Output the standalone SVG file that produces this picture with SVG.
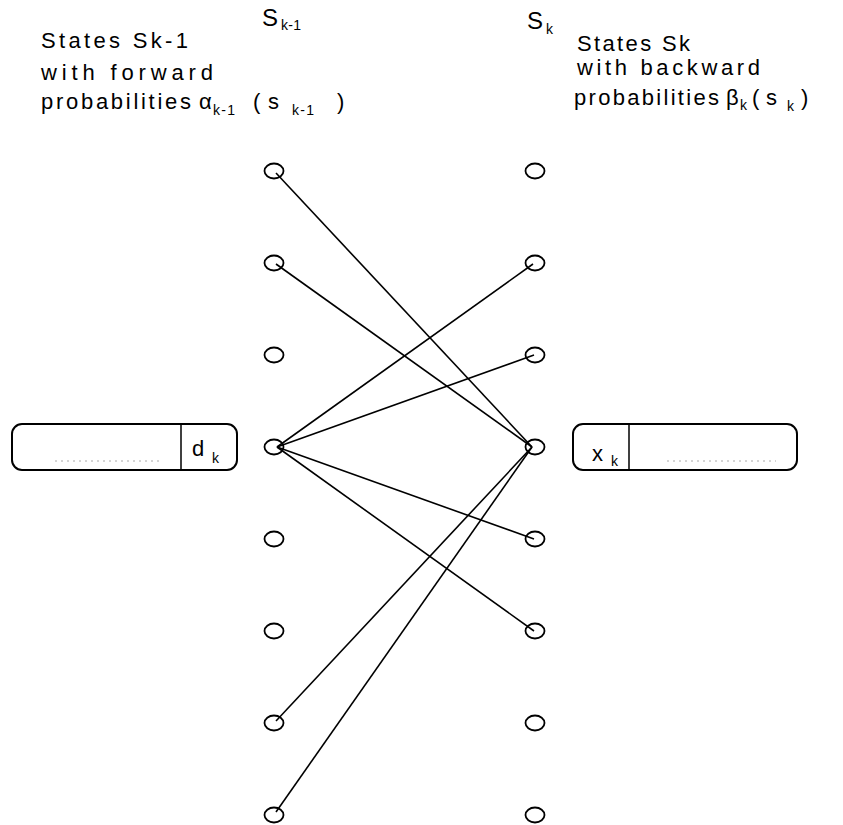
<svg xmlns="http://www.w3.org/2000/svg" width="843" height="825" viewBox="0 0 843 825">
<style>
text{font-family:"Liberation Sans",Arial,sans-serif;fill:#000}
.t{font-size:22px}
.h{font-size:24px}
.s{font-size:14px}
.st{fill:none;stroke:#000;stroke-width:1.8}
.box{fill:#fff;stroke:#000;stroke-width:2}
.div{stroke:#000;stroke-width:1.5}
.dots{stroke:#aaa;stroke-width:1;stroke-dasharray:2 4}
.e{stroke:#000;stroke-width:1.6;fill:none}
</style>
<rect width="843" height="825" fill="#fff"/>
<g id="labels">
<text class="t" x="41" y="48" textLength="147" lengthAdjust="spacing">States Sk-1</text>
<text class="t" x="41" y="80" textLength="172" lengthAdjust="spacing">with forward</text>
<text class="t" x="41" y="109" textLength="150" lengthAdjust="spacing">probabilities</text>
<text class="t" x="199" y="109">α</text>
<text class="s" x="213" y="115" textLength="22" lengthAdjust="spacing">k-1</text>
<text class="t" x="253" y="109">(</text>
<text class="t" x="268" y="109">s</text>
<text class="s" x="292" y="115" textLength="22" lengthAdjust="spacing">k-1</text>
<text class="t" x="337" y="109">)</text>
<text class="h" x="262" y="26">S</text>
<text class="s" x="281" y="30" textLength="20" lengthAdjust="spacing">k-1</text>
<text class="h" x="527" y="29">S</text>
<text class="s" x="546" y="34">k</text>
<text class="t" x="577" y="51" textLength="113" lengthAdjust="spacing">States Sk</text>
<text class="t" x="577" y="75" textLength="183" lengthAdjust="spacing">with backward</text>
<text class="t" x="574" y="105" textLength="145" lengthAdjust="spacing">probabilities</text>
<text class="t" x="726" y="105">β</text>
<text class="s" x="740" y="110">k</text>
<text class="t" x="752" y="105">(</text>
<text class="t" x="766" y="105">s</text>
<text class="s" x="787" y="111">k</text>
<text class="t" x="801" y="105">)</text>
</g>
<g id="left-states">
<ellipse class="st" cx="274" cy="171" rx="9.5" ry="7.5"/>
<ellipse class="st" cx="274" cy="263" rx="9.5" ry="7.5"/>
<ellipse class="st" cx="274" cy="355" rx="9.5" ry="7.5"/>
<ellipse class="st" cx="274" cy="447" rx="9.5" ry="7.5"/>
<ellipse class="st" cx="274" cy="539" rx="9.5" ry="7.5"/>
<ellipse class="st" cx="274" cy="631" rx="9.5" ry="7.5"/>
<ellipse class="st" cx="274" cy="723" rx="9.5" ry="7.5"/>
<ellipse class="st" cx="274" cy="815" rx="9.5" ry="7.5"/>
</g>
<g id="right-states">
<ellipse class="st" cx="535" cy="171" rx="9.5" ry="7.5"/>
<ellipse class="st" cx="535" cy="263" rx="9.5" ry="7.5"/>
<ellipse class="st" cx="535" cy="355" rx="9.5" ry="7.5"/>
<ellipse class="st" cx="535" cy="447" rx="9.5" ry="7.5"/>
<ellipse class="st" cx="535" cy="539" rx="9.5" ry="7.5"/>
<ellipse class="st" cx="535" cy="631" rx="9.5" ry="7.5"/>
<ellipse class="st" cx="535" cy="723" rx="9.5" ry="7.5"/>
<ellipse class="st" cx="535" cy="815" rx="9.5" ry="7.5"/>
</g>
<g id="connectors">
<line class="e" x1="276" y1="173" x2="532" y2="447"/>
<line class="e" x1="276" y1="264" x2="532" y2="447"/>
<line class="e" x1="277" y1="447" x2="533" y2="264"/>
<line class="e" x1="277" y1="447" x2="534" y2="355"/>
<line class="e" x1="277" y1="447" x2="534" y2="539"/>
<line class="e" x1="277" y1="447" x2="534" y2="631"/>
<line class="e" x1="276" y1="721" x2="532" y2="447"/>
<line class="e" x1="276" y1="812" x2="532" y2="447"/>
</g>
<g id="box-d">
<rect class="box" x="12" y="424" width="225" height="46" rx="10"/>
<line class="div" x1="181" y1="424" x2="181" y2="470"/>
<line class="dots" x1="55" y1="461" x2="163" y2="461"/>
<text class="t" x="192" y="456">d</text>
<text class="s" x="212" y="463">k</text>
</g>
<g id="box-x">
<rect class="box" x="573" y="424" width="224" height="46" rx="10"/>
<line class="div" x1="629" y1="424" x2="629" y2="470"/>
<line class="dots" x1="667" y1="461" x2="776" y2="461"/>
<text class="t" x="592" y="461">x</text>
<text class="s" x="611" y="466">k</text>
</g>
</svg>
